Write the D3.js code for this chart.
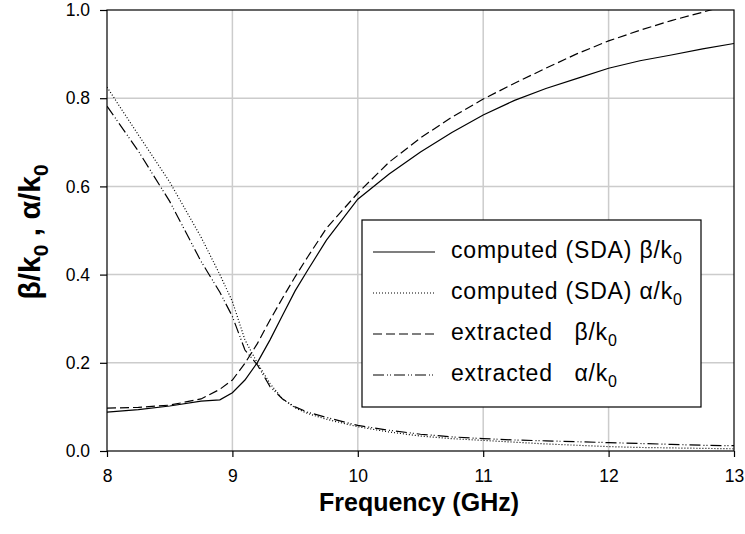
<html>
<script src="https://d3js.org/d3.v7.min.js"></script>
<style>
body { margin: 0; background: white; }
text { font-family: "Liberation Sans", Arial, sans-serif; }
</style>
<body>
<svg width="745" height="534"></svg>
<script>
// frequency grid (GHz)
var freq = [8.0, 8.25, 8.5, 8.75, 8.9, 9.0, 9.1, 9.2, 9.3, 9.4, 9.5, 9.6, 9.75, 10, 10.25, 10.5, 10.75, 11, 11.25, 11.5, 11.75, 12, 12.25, 12.5, 12.75, 13];
var betaSDA  = [.088, .094, .102, .113, .116, .132, .161, .201, .252, .308, .363, .41, .478, .571, .628, .678, .722, .762, .795, .822, .845, .868, .885, .898, .912, .924];
var alphaSDA = [.825, .717, .61, .485, .40, .339, .252, .199, .153, .118, .098, .085, .072, .055, .043, .034, .028, .024, .02, .016, .013, .01, .008, .007, .006, .005];
var betaExt  = [.097, .099, .104, .118, .14, .161, .199, .244, .297, .347, .395, .44, .505, .585, .655, .71, .757, .798, .834, .868, .901, .930, .954, .976, .995, 1.015];
var alphaExt = [.782, .68, .566, .43, .36, .305, .229, .195, .146, .118, .100, .088, .076, .058, .047, .038, .032, .028, .025, .023, .021, .019, .017, .015, .013, .012];

var xTicks = [8, 9, 10, 11, 12, 13];
var yTicks = [0, 0.2, 0.4, 0.6, 0.8, 1.0];

var series = [
  {name: "computed (SDA) ", sym: "β", vals: betaSDA, dash: null},
  {name: "computed (SDA) ", sym: "α", vals: alphaSDA, dash: "1,2"},
  {name: "extracted   ", sym: "β", vals: betaExt, dash: "9,4"},
  {name: "extracted   ", sym: "α", vals: alphaExt, dash: "11,3,1,2,1,3"}
];

var svg = d3.select("svg");
var L = 107, R = 734, T = 10, B = 451;

var x = d3.scaleLinear().domain([8, 13]).range([L, R]);
var y = d3.scaleLinear().domain([0, 1]).range([B, T]);

// grid
svg.append("g").selectAll("line").data(xTicks.slice(1, -1)).enter().append("line")
  .attr("x1", d => x(d)).attr("x2", d => x(d)).attr("y1", T).attr("y2", B)
  .style("stroke", "#cccccc").style("stroke-width", 1.5);
svg.append("g").selectAll("line").data(yTicks.slice(1, -1)).enter().append("line")
  .attr("x1", L).attr("x2", R).attr("y1", d => y(d)).attr("y2", d => y(d))
  .style("stroke", "#cccccc").style("stroke-width", 1.5);

// frame
svg.append("rect").attr("x", L).attr("y", T).attr("width", R - L).attr("height", B - T)
  .style("fill", "none").style("stroke", "black").style("stroke-width", 1.2);

svg.append("clipPath").attr("id", "clip").append("rect")
  .attr("x", L).attr("y", T).attr("width", R - L).attr("height", B - T);

var line = d3.line().x((d, i) => x(freq[i])).y(d => y(d));
svg.append("g").attr("clip-path", "url(#clip)")
  .selectAll("path").data(series).enter().append("path")
  .attr("d", d => line(d.vals))
  .style("fill", "none").style("stroke", "black").style("stroke-width", 1.2)
  .style("stroke-dasharray", d => d.dash);

// axes
var xAxis = d3.axisBottom(x).tickValues(xTicks).tickFormat(d3.format("d")).tickSizeOuter(0).tickSize(6);
var gx = svg.append("g").attr("transform", "translate(0," + B + ")").call(xAxis);
var yAxis = d3.axisLeft(y).tickValues(yTicks).tickFormat(d3.format(".1f")).tickSizeOuter(0).tickSize(7).tickPadding(10);
var gy = svg.append("g").attr("transform", "translate(" + L + ",0)").call(yAxis);
[gx, gy].forEach(function(g) {
  g.select(".domain").remove();
  g.selectAll("line").style("stroke", "black").style("stroke-width", 1.2);
  g.selectAll("text").style("font-size", "17.5px").style("fill", "black")
    .style("font-family", "'Liberation Sans', Arial, sans-serif");
});
gx.selectAll("text").attr("y", 31).attr("dy", null);

// axis titles
svg.append("text").attr("x", 419).attr("y", 511).attr("text-anchor", "middle")
  .style("font-size", "25px").style("font-weight", "bold").text("Frequency (GHz)");

var yt = svg.append("text").attr("transform", "translate(40,232) rotate(-90)")
  .attr("text-anchor", "middle").style("font-size", "30px").style("font-weight", "bold");
yt.append("tspan").text("β/k");
yt.append("tspan").attr("dy", 8).style("font-size", "21px").text("0");
yt.append("tspan").attr("dy", -8).text(" , α/k");
yt.append("tspan").attr("dy", 8).style("font-size", "21px").text("0");

// legend
var lg = svg.append("g");
lg.append("rect").attr("x", 362).attr("y", 220).attr("width", 339).attr("height", 187)
  .style("fill", "white").style("stroke", "black").style("stroke-width", 1.2);
var rows = lg.selectAll("g.row").data(series).enter().append("g")
  .attr("transform", (d, i) => "translate(0," + (252 + i * 41) + ")");
rows.append("line").attr("x1", 373).attr("x2", 435).attr("y1", 0).attr("y2", 0)
  .style("stroke", "black").style("stroke-width", 1.2).style("stroke-dasharray", d => d.dash);
var lt = rows.append("text").attr("x", 451).attr("y", 6)
  .style("font-size", "23px").style("letter-spacing", "0.8px").style("white-space", "pre");
lt.append("tspan").text(d => d.name + d.sym + "/k");
lt.append("tspan").attr("dy", 6).style("font-size", "16px").text("0");
</script>
</body>
</html>
